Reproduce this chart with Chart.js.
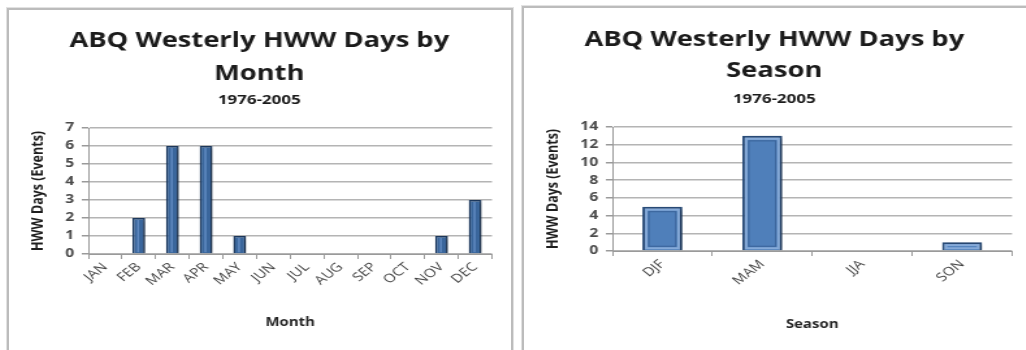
<!DOCTYPE html>
<html>
<head>
<meta charset="utf-8">
<script src="https://cdn.jsdelivr.net/npm/chart.js@4/dist/chart.umd.min.js"></script>
<style>
  html, body { margin: 0; padding: 0; background: #fff; }
  body { width: 1026px; height: 350px; overflow: hidden; position: relative; }
  .panel {
    position: absolute;
    box-sizing: border-box;
    border: 2px solid #bcbcbc;
    box-shadow: 0 0 0 1px #e2e2e2;
    background: #fff;
    overflow: hidden;
  }
  #panelMonth { left: 7px; top: 8px; width: 506px; height: 346px; }
  #panelSeason { left: 522px; top: 6px; width: 510px; height: 348px; }
  .stretch { position: absolute; left: 0; top: 0; transform-origin: 0 0; transform: scaleX(1.3); }
</style>
</head>
<body>
<div class="panel" id="panelMonth"><div class="stretch"><canvas id="monthChart" width="385" height="338"></canvas></div></div>
<div class="panel" id="panelSeason"><div class="stretch"><canvas id="seasonChart" width="385" height="342"></canvas></div></div>

<script>
// Westerly high wind warning days at ABQ, 1976-2005
const months = ['JAN', 'FEB', 'MAR', 'APR', 'MAY', 'JUN', 'JUL', 'AUG', 'SEP', 'OCT', 'NOV', 'DEC'];
const monthDays = [0, 2, 6, 6, 1, 0, 0, 0, 0, 0, 1, 3];

const seasons = ['DJF', 'MAM', 'JJA', 'SON'];
const seasonDays = [5, 13, 0, 1];

const monthTitle = ['ABQ Westerly HWW Days by', 'Month'];
const seasonTitle = ['ABQ Westerly HWW Days by', 'Season'];
const periodLabel = '1976-2005';
const yAxisLabel = 'HWW Days (Events)';

const FONT = "'Open Sans', 'DejaVu Sans', sans-serif";

// Heading lines drawn centred above the plot
const headingPlugin = {
  id: 'heading',
  afterDraw(chart, args, opts) {
    const ctx = chart.ctx;
    ctx.save();
    ctx.fillStyle = '#1b1b1b';
    ctx.textAlign = 'center';
    ctx.textBaseline = 'alphabetic';
    const cx = chart.width / 2;
    opts.lines.forEach(l => {
      ctx.font = l.font;
      ctx.fillText(l.text, cx, l.y);
    });
    ctx.restore();
  }
};

// Soft drop shadow and bevel highlights on the bars
const barDecorPlugin = {
  id: 'barDecor',
  beforeDatasetsDraw(chart) {
    const ctx = chart.ctx;
    ctx.save();
    ctx.shadowColor = 'rgba(0,0,0,0.35)';
    ctx.shadowBlur = 4;
    ctx.shadowOffsetX = 2;
    ctx.shadowOffsetY = 1;
  },
  afterDatasetsDraw(chart, args, opts) {
    const ctx = chart.ctx;
    ctx.restore();
    ctx.save();
    chart.getDatasetMeta(0).data.forEach(bar => {
      const p = bar.getProps(['x', 'y', 'base', 'width'], true);
      const h = p.base - p.y;
      if (h < 3) return;
      const left = p.x - p.width / 2;
      if (opts.style === 'narrow') {
        ctx.strokeStyle = 'rgba(110,150,205,0.75)';
        ctx.lineWidth = 1.5;
        ctx.beginPath();
        ctx.moveTo(p.x - 0.5, p.y + 2);
        ctx.lineTo(p.x - 0.5, p.base - 1);
        ctx.stroke();
      } else {
        ctx.strokeStyle = '#86aad8';
        ctx.lineWidth = 2;
        ctx.strokeRect(left + 3, p.y + 3, p.width - 6, h - 5);
        if (h > 10) {
          ctx.strokeStyle = '#3a6399';
          ctx.lineWidth = 1;
          ctx.strokeRect(left + 5, p.y + 5, p.width - 10, h - 9);
        }
      }
    });
    ctx.restore();
  }
};

function buildChart(canvasId, labels, values, cfg) {
  return new Chart(document.getElementById(canvasId), {
    type: 'bar',
    data: {
      labels: labels,
      datasets: [{
        data: values,
        backgroundColor: cfg.fill,
        borderColor: cfg.edge,
        borderWidth: cfg.edgeWidth,
        borderSkipped: 'bottom',
        barPercentage: cfg.barPct,
        categoryPercentage: 1
      }]
    },
    options: {
      responsive: false,
      animation: false,
      layout: { padding: { top: cfg.top, right: cfg.right, left: 0, bottom: 0 } },
      plugins: {
        legend: { display: false },
        tooltip: { enabled: false },
        heading: { lines: cfg.heading },
        barDecor: { style: cfg.style }
      },
      scales: {
        x: {
          afterFit(scale) { scale.height = cfg.xHeight; },
          grid: { display: true, drawOnChartArea: false, offset: true, color: '#9a9a9a', tickLength: 5, lineWidth: 1 },
          border: { color: '#9a9a9a', width: 1 },
          ticks: { color: '#444444', font: { family: FONT, size: 12 }, maxRotation: 45, minRotation: 45, padding: 1, autoSkip: false },
          title: { display: true, text: cfg.xTitle, color: '#262626', font: { family: FONT, size: 11.5, weight: 'bold' }, padding: { top: 0, bottom: 18 } }
        },
        y: {
          min: 0,
          max: cfg.yMax,
          afterFit(scale) { scale.width = cfg.yWidth; },
          grid: { color: '#b4b4b4', lineWidth: 1.5, tickLength: 5, tickColor: '#9a9a9a' },
          border: { color: '#9a9a9a', width: 1 },
          ticks: { stepSize: cfg.yStep, color: '#4a4a4a', font: { family: FONT, size: 12, weight: 'bold' }, padding: 6 },
          title: { display: true, text: yAxisLabel, color: '#1e1e1e', font: { family: FONT, size: 12.5, weight: 'bold' }, padding: { top: 15, bottom: 0 } }
        }
      }
    },
    plugins: [headingPlugin, barDecorPlugin]
  });
}

buildChart('monthChart', months, monthDays, {
  fill: '#3a669c', edge: '#1d3a60', edgeWidth: 1.5, barPct: 0.38, style: 'narrow',
  top: 118, right: 13.5, xHeight: 94, yWidth: 61, yMax: 7, yStep: 1, xTitle: 'Month',
  heading: [
    { text: monthTitle[0], font: `bold 21px ${FONT}`, y: 37 },
    { text: monthTitle[1], font: `bold 21px ${FONT}`, y: 70 },
    { text: periodLabel, font: `bold 13px ${FONT}`, y: 94 }
  ]
});

buildChart('seasonChart', seasons, seasonDays, {
  fill: '#4f7fba', edge: '#2a4d7a', edgeWidth: 2, barPct: 0.4, style: 'wide',
  top: 119, right: 9.6, xHeight: 99, yWidth: 68, yMax: 14, yStep: 2, xTitle: 'Season',
  heading: [
    { text: seasonTitle[0], font: `bold 21px ${FONT}`, y: 38 },
    { text: seasonTitle[1], font: `bold 21px ${FONT}`, y: 69 },
    { text: periodLabel, font: `bold 13px ${FONT}`, y: 95 }
  ]
});
</script>
</body>
</html>
